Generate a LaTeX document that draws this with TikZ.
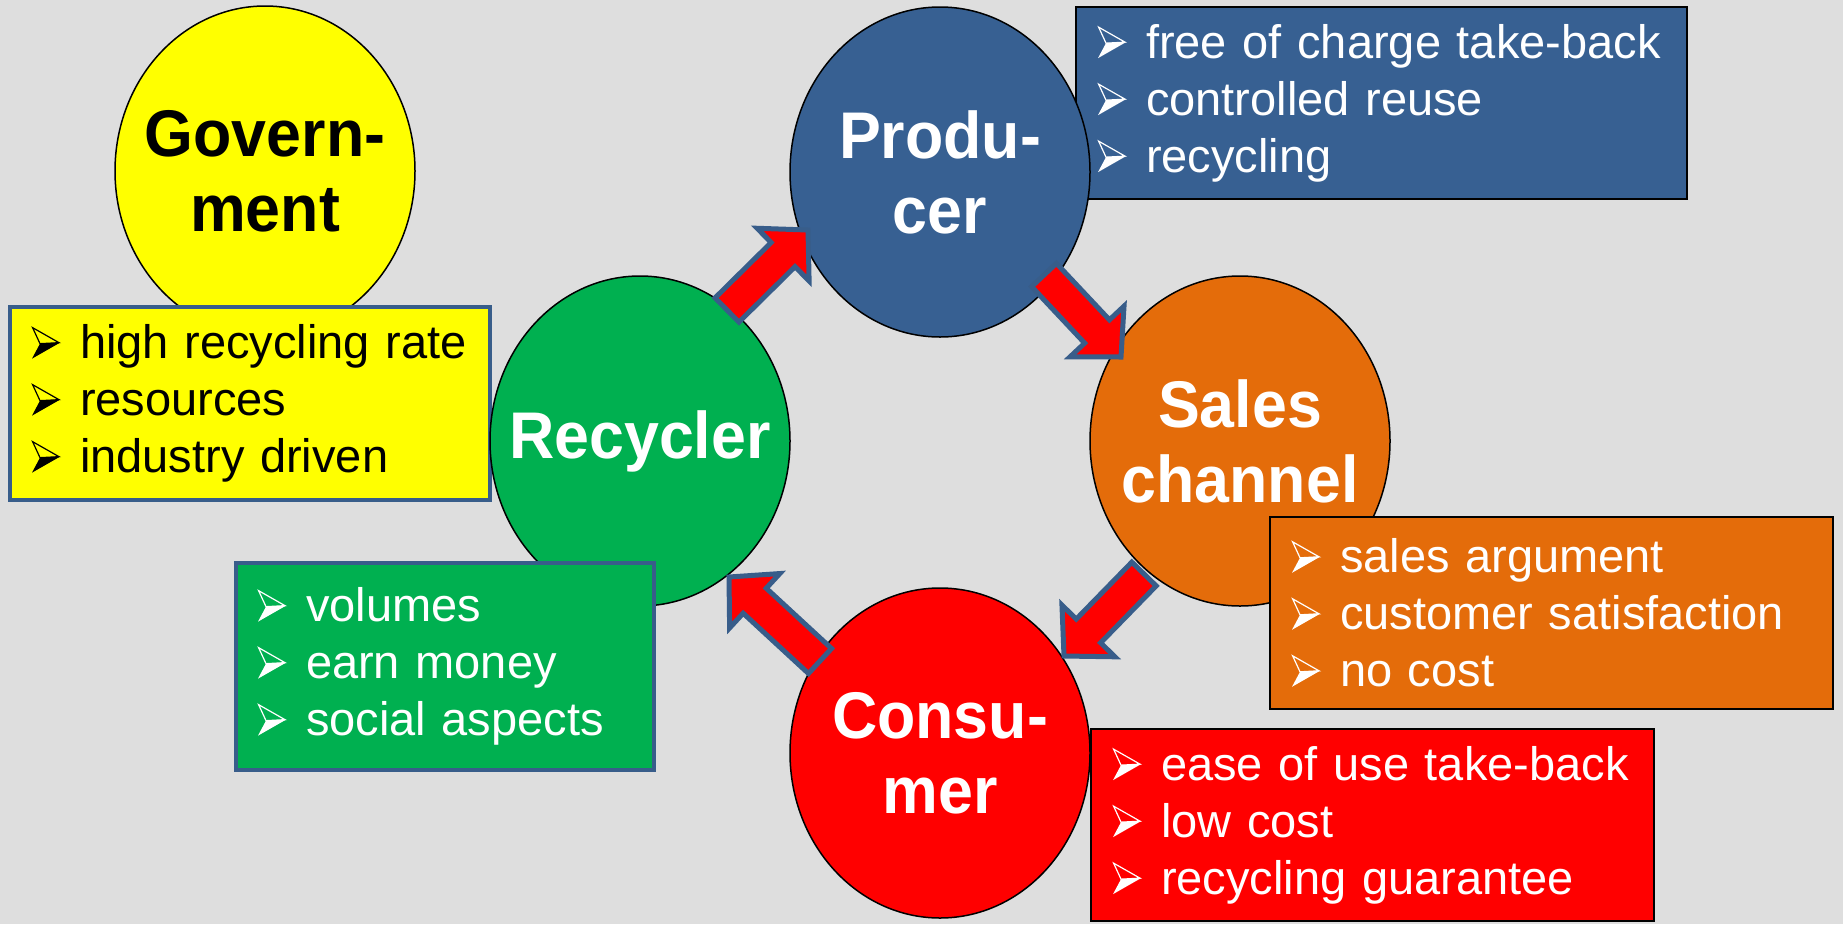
\documentclass[tikz,border=0pt]{standalone}
\usepackage{fontspec}
\setmainfont{Liberation Sans}
\newfontfamily\titlefamily[FakeStretch=0.95]{Liberation Sans}
\usetikzlibrary{shapes.geometric,calc}

\definecolor{bggray}{RGB}{222,222,222}
\definecolor{govyellow}{RGB}{255,255,0}
\definecolor{prodblue}{RGB}{55,96,146}
\definecolor{salesorange}{RGB}{228,108,10}
\definecolor{consred}{RGB}{255,0,0}
\definecolor{recgreen}{RGB}{0,176,80}
\definecolor{edgeblue}{RGB}{56,93,138}

\newcommand{\titlefont}{\titlefamily\fontsize{66}{75}\selectfont\bfseries}
\newcommand{\listfont}{\fontsize{47}{57}\selectfont}
% arrowhead bullet, in the colour of the text
\newcommand{\bul}{\makebox[48pt][l]{\tikz[x=1pt,y=1pt,baseline=0pt]{%
  \fill[fill=.] (0,0) -- (8,15) -- (28,16) -- cycle;
  \draw[draw=., line width=1.2pt, line join=miter] (0.6,31) -- (8,15) -- (27,16) -- cycle;}}}

% block arrow from tail #1 to tip #2
\newcommand{\flow}[2]{%
  \coordinate (neck) at ($(#2)!35pt!(#1)$);
  \draw[flowarrow] ($(#1)!17pt!90:(#2)$) -- ($(neck)!17pt!90:(#2)$)
    -- ($(neck)!37pt!90:(#2)$) -- (#2) -- ($(neck)!37pt!-90:(#2)$)
    -- ($(neck)!17pt!-90:(#2)$) -- ($(#1)!17pt!-90:(#2)$) -- cycle;}

\tikzset{
  actor/.style={ellipse, draw=black, line width=1.5pt, fill=#1,
    minimum width=300pt, minimum height=330pt, inner sep=-40pt,
    align=center, font=\titlefont, text=white},
  goalbox/.style={rectangle, draw=black, line width=2pt, fill=#1,
    inner xsep=22pt, inner ysep=0pt, align=left, font=\listfont, text=white},
  flowarrow/.style={fill=consred, draw=edgeblue, line width=5pt, line join=miter}
}

\begin{document}
\begin{tikzpicture}[x=1pt,y=-1pt]
  \fill[bggray] (0,0) rectangle (1843,924);
  \useasboundingbox (0,0) rectangle (1843,924);

  % government
  \node[actor=govyellow, text=black] (gov) at (265,171) {Govern-\\ment};
  \node[goalbox=govyellow, draw=edgeblue, line width=4pt, text=black,
    text width=436pt, minimum height=193pt] (govbox) at (250,403.5)
    {\bul high recycling rate\\\bul resources\\\bul industry driven};

  % producer
  \node[goalbox=prodblue, text width=567pt, minimum height=192pt] (prodbox) at (1381.5,103)
    {\bul free of charge take-back\\\bul controlled reuse\\\bul recycling};
  \node[actor=prodblue] (prod) at (940,172) {Produ-\\cer};

  % sales channel
  \node[actor=salesorange] (sales) at (1240,441) {Sales\\channel};
  \node[goalbox=salesorange, text width=519pt, minimum height=192pt] (salesbox) at (1551.5,613)
    {\bul sales argument\\\bul customer satisfaction\\\bul no cost};

  % consumer
  \node[actor=consred] (cons) at (940,753) {Consu-\\mer};
  \node[goalbox=consred, text width=519pt, minimum height=192pt] (consbox) at (1372.5,825)
    {\bul ease of use take-back\\\bul low cost\\\bul recycling guarantee};

  % recycler
  \node[actor=recgreen] (rec) at (640,441) {Recycler};
  \node[goalbox=recgreen, draw=edgeblue, line width=4pt,
    text width=374pt, minimum height=207pt] (recbox) at (445,666.5)
    {\bul volumes\\\bul earn money\\\bul social aspects};

  % cycle arrows
  \coordinate (rp-tail) at (727,310);  \coordinate (rp-tip) at (808,230);
  \coordinate (ps-tail) at (1044,275); \coordinate (ps-tip) at (1121,357);
  \coordinate (sc-tail) at (1144,574); \coordinate (sc-tip) at (1064,656);
  \coordinate (cr-tail) at (820,661);  \coordinate (cr-tip) at (729,577);
  \flow{rp-tail}{rp-tip}
  \flow{ps-tail}{ps-tip}
  \flow{sc-tail}{sc-tip}
  \flow{cr-tail}{cr-tip}
\end{tikzpicture}
\end{document}
